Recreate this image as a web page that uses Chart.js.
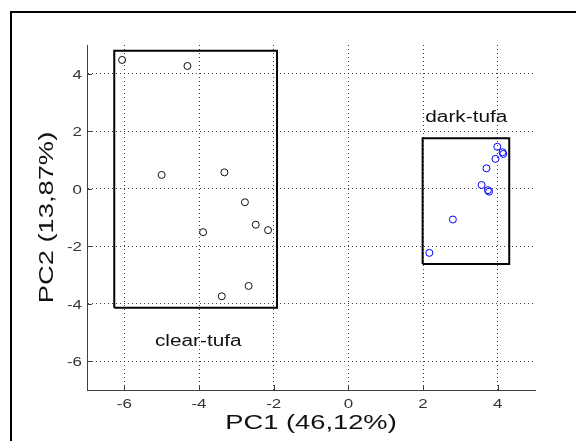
<!DOCTYPE html>
<html>
<head>
<meta charset="utf-8">
<script src="https://cdn.jsdelivr.net/npm/chart.js@4"></script>
<style>
  html, body { margin: 0; padding: 0; background: #fff; }
  canvas { display: block; }
</style>
</head>
<body>
<canvas id="pcaChart" width="576" height="441"></canvas>
<script>
// tick values on both axes
const xTicks = [-6, -4, -2, 0, 2, 4];
const yTicks = [-6, -4, -2, 0, 2, 4];

// clear-tufa samples
const clearX = [-6.06, -4.31, -5.00, -3.32, -2.77, -2.48, -2.15, -3.89, -2.67, -3.39];
const clearY = [4.48, 4.27, 0.48, 0.57, -0.47, -1.25, -1.44, -1.51, -3.38, -3.74];

// dark-tufa samples
const darkX = [3.99, 4.13, 4.15, 3.94, 3.70, 3.57, 3.74, 3.77, 2.80, 2.17];
const darkY = [1.46, 1.27, 1.21, 1.04, 0.71, 0.13, -0.05, -0.10, -1.07, -2.23];

// group boxes [min, max]
const clearBoxX = [-6.27, -1.91];
const clearBoxY = [-4.14, 4.80];
const darkBoxX = [1.99, 4.31];
const darkBoxY = [-2.62, 1.76];

const xTitle = 'PC1 (46,12%)';
const yTitle = 'PC2 (13,87%)';

function toPoints(xs, ys) {
    return xs.map((x, i) => ({ x: x, y: ys[i] }));
}

function boxPoints(bx, by) {
    return [
        { x: bx[0], y: by[0] }, { x: bx[1], y: by[0] },
        { x: bx[1], y: by[1] }, { x: bx[0], y: by[1] },
        { x: bx[0], y: by[0] }
    ];
}

const FONT = '"Liberation Sans", Arial, Helvetica, sans-serif';

// the source figure was stretched sideways, so text is widened a bit
function wideText(ctx, txt, x, y, size, align, rot) {
    ctx.save();
    ctx.translate(x, y);
    if (rot) ctx.rotate(rot);
    ctx.scale(1.3, 1);
    ctx.font = size + 'px ' + FONT;
    ctx.textAlign = align;
    ctx.textBaseline = 'alphabetic';
    ctx.fillText(txt, 0, 0);
    ctx.restore();
}

const decorPlugin = {
    id: 'decor',
    beforeDraw(chart) {
        const ctx = chart.ctx;
        ctx.save();
        ctx.fillStyle = '#fff';
        ctx.fillRect(0, 0, chart.width, chart.height);
        ctx.restore();
    },
    afterDraw(chart) {
        const ctx = chart.ctx;
        const xs = chart.scales.x, ys = chart.scales.y;
        const area = chart.chartArea;

        // inward tick marks
        ctx.save();
        ctx.strokeStyle = '#404040';
        ctx.lineWidth = 1;
        ctx.beginPath();
        xTicks.forEach(v => {
            const px = Math.round(xs.getPixelForValue(v)) + 0.5;
            ctx.moveTo(px, area.bottom);
            ctx.lineTo(px, area.bottom - 5);
        });
        yTicks.forEach(v => {
            const py = Math.round(ys.getPixelForValue(v)) + 0.5;
            ctx.moveTo(area.left, py);
            ctx.lineTo(area.left + 5, py);
        });
        ctx.stroke();
        ctx.restore();

        // tick labels
        ctx.save();
        ctx.fillStyle = '#333';
        xTicks.forEach(v => {
            wideText(ctx, String(v), xs.getPixelForValue(v), area.bottom + 18, 13, 'center');
        });
        yTicks.forEach(v => {
            wideText(ctx, String(v), area.left - 5, ys.getPixelForValue(v) + 5, 13, 'right');
        });

        // axis titles
        ctx.fillStyle = '#111';
        wideText(ctx, xTitle, (area.left + area.right) / 2, 429, 21, 'center');
        wideText(ctx, yTitle, 53, (area.top + area.bottom) / 2, 21, 'center', -Math.PI / 2);

        // group names
        wideText(ctx, 'clear-tufa', xs.getPixelForValue(-4.02), ys.getPixelForValue(-5.47), 16, 'center');
        wideText(ctx, 'dark-tufa', xs.getPixelForValue(3.16), ys.getPixelForValue(2.33), 16, 'center');
        ctx.restore();

        // outer figure frame
        ctx.save();
        ctx.strokeStyle = '#000';
        ctx.lineWidth = 2;
        ctx.strokeRect(11, 12, 700, 700);
        ctx.restore();
    }
};

const gridStyle = {
    color: 'rgba(0,0,0,0.75)',
    lineWidth: 1,
    drawTicks: false
};
const borderStyle = {
    display: true,
    color: '#404040',
    width: 1,
    dash: [1, 3]
};

new Chart(document.getElementById('pcaChart').getContext('2d'), {
    type: 'scatter',
    data: {
        datasets: [
            {
                label: 'clear box',
                data: boxPoints(clearBoxX, clearBoxY),
                showLine: true,
                borderColor: '#000',
                borderWidth: 2,
                pointRadius: 0,
                fill: false
            },
            {
                label: 'dark box',
                data: boxPoints(darkBoxX, darkBoxY),
                showLine: true,
                borderColor: '#000',
                borderWidth: 2,
                pointRadius: 0,
                fill: false
            },
            {
                label: 'clear-tufa',
                data: toPoints(clearX, clearY),
                pointStyle: 'circle',
                pointRadius: 3.5,
                borderWidth: 1,
                borderColor: '#111',
                backgroundColor: 'rgba(0,0,0,0)'
            },
            {
                label: 'dark-tufa',
                data: toPoints(darkX, darkY),
                pointStyle: 'circle',
                pointRadius: 3.5,
                borderWidth: 1,
                borderColor: '#0000ff',
                backgroundColor: 'rgba(0,0,0,0)'
            }
        ]
    },
    options: {
        responsive: false,
        animation: false,
        layout: { padding: { left: 0, top: 45, right: 41, bottom: 0 } },
        plugins: {
            legend: { display: false },
            tooltip: { enabled: false },
            title: { display: false }
        },
        scales: {
            x: {
                type: 'linear',
                min: -7,
                max: 5,
                afterBuildTicks: s => { s.ticks = xTicks.map(v => ({ value: v })); },
                afterFit: s => { s.height = 51; },
                ticks: { display: false },
                grid: gridStyle,
                border: borderStyle
            },
            y: {
                type: 'linear',
                min: -7,
                max: 5,
                afterBuildTicks: s => { s.ticks = yTicks.map(v => ({ value: v })); },
                afterFit: s => { s.width = 87; },
                ticks: { display: false },
                grid: gridStyle,
                border: borderStyle
            }
        }
    },
    plugins: [decorPlugin]
});
</script>
</body>
</html>
